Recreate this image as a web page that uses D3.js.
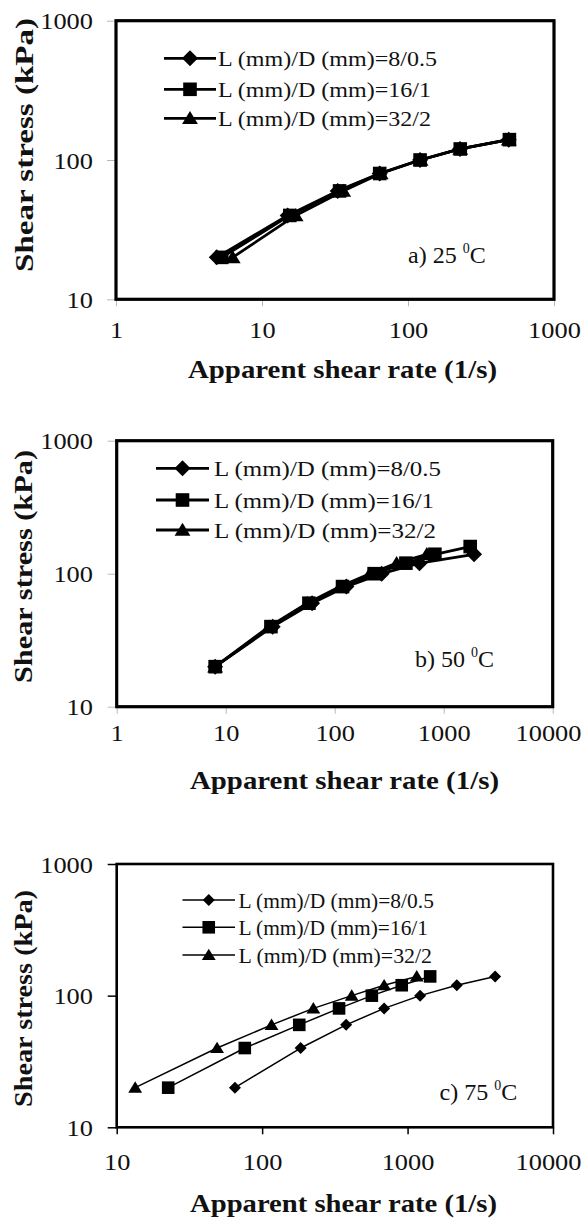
<!DOCTYPE html>
<html><head><meta charset="utf-8">
<script src="https://cdn.jsdelivr.net/npm/d3@7/dist/d3.min.js"></script>
<style>html,body{margin:0;padding:0;background:#fff;} svg{display:block;}</style>
</head><body>
<script>
// ---------------- DATA ----------------
const seriesNames = ["L (mm)/D (mm)=8/0.5", "L (mm)/D (mm)=16/1", "L (mm)/D (mm)=32/2"];
const yTicks = [10, 100, 1000];
const xTicksA = [1, 10, 100, 1000];
const xTicksB = [1, 10, 100, 1000, 10000];
const xTicksC = [10, 100, 1000, 10000];
const xTitle = "Apparent shear rate (1/s)";
const yTitle = "Shear stress (kPa)";
const panelLabels = ["a) 25 ", "b) 50 ", "c) 75 "];

// a) 25 °C
const stressA = [20, 40, 60, 80, 100, 120, 140];
const rateA_8_05 = [4.9, 15, 33, 64, 121, 227, 490];
const rateA_16_1 = [5.3, 15.5, 34, 64, 121, 228, 495];
const rateA_32_2 = [6.3, 17, 36, 65, 122, 228, 490];

// b) 50 °C
const stressB_8_05 = [20, 40, 60, 80, 100, 120, 140];
const rateB_8_05 = [8, 27, 62, 128, 270, 600, 1900];
const stressB_16_1 = [20, 40, 60, 80, 100, 120, 140, 160];
const rateB_16_1 = [8, 26, 58, 118, 230, 450, 830, 1750];
const stressB_32_2 = [20, 40, 60, 80, 100, 120, 140];
const rateB_32_2 = [8, 25, 56, 112, 210, 370, 700];

// c) 75 °C
const stressC = [20, 40, 60, 80, 100, 120, 140];
const rateC_8_05 = [65, 184, 378, 690, 1220, 2180, 4000];
const rateC_16_1 = [22.6, 76, 180, 338, 568, 912, 1430];
const rateC_32_2 = [13.4, 49, 116, 225, 413, 690, 1156];

// ---------------- DRAWING ----------------
const FONT = "'Liberation Serif','Times New Roman',serif";
const svg = d3.select("body").append("svg").attr("width", 584).attr("height", 1223)
  .style("background", "#fff");

const symDiamond = {draw(c, r){ c.moveTo(0,-r); c.lineTo(r,0); c.lineTo(0,r); c.lineTo(-r,0); c.closePath(); }};
const symSquare = {draw(c, r){ c.moveTo(-r,-r); c.lineTo(r,-r); c.lineTo(r,r); c.lineTo(-r,r); c.closePath(); }};
const symTriangle = {draw(c, r){ c.moveTo(0,-r); c.lineTo(r*1.1,r*0.8); c.lineTo(-r*1.1,r*0.8); c.closePath(); }};
const symTypes = [symDiamond, symSquare, symTriangle];

const panels = [
  { box:{l:116, r:554, t:20.7, b:299.3}, xDomain:[1,1000], xTicks:xTicksA,
    series:[[rateA_8_05, stressA],[rateA_16_1, stressA],[rateA_32_2, stressA]],
    heavy:true, msize:[8,6.8,7.2], lw:2.8,
    legend:{rows:[58.3,89.3,118.3], x0:164, x1:216, tx:218, tw:[219,213,213]},
    ann:{x:408, y:263}, xt:{cx:342.5, y:378, len:309}, yt:{x:33, cy:145, len:254}, xLabelY:338 },
  { box:{l:116.7, r:552.7, t:440.7, b:706.7}, xDomain:[1,10000], xTicks:xTicksB,
    series:[[rateB_8_05, stressB_8_05],[rateB_16_1, stressB_16_1],[rateB_32_2, stressB_32_2]],
    heavy:true, msize:[8,6.8,7.2], lw:2.8,
    legend:{rows:[468.3,500,530], x0:156, x1:209, tx:214, tw:[227,220,222]},
    ann:{x:415, y:667}, xt:{cx:344.5, y:789, len:309}, yt:{x:32, cy:566.5, len:233}, xLabelY:741 },
  { box:{l:116.7, r:553, t:864, b:1127.3}, xDomain:[10,10000], xTicks:xTicksC,
    series:[[rateC_8_05, stressC],[rateC_16_1, stressC],[rateC_32_2, stressC]],
    heavy:false, msize:[6,6.3,6.3], lw:1.5,
    legend:{rows:[900,927.3,955], x0:182.5, x1:235, tx:238.4, tw:[195.5,189.6,193.6]},
    ann:{x:439.5, y:1100}, xt:{cx:343.5, y:1212, len:307}, yt:{x:32, cy:998.5, len:217}, xLabelY:1170 }
];

panels.forEach((p, pi) => {
  const {l, r, t, b} = p.box;
  const g = svg.append("g");
  const x = d3.scaleLog().domain(p.xDomain).range([l, r]);
  const y = d3.scaleLog().domain([10, 1000]).range([b, t]);
  const tickColor = p.heavy ? "#b8b8b8" : "#000";
  const tickW = p.heavy ? 1 : 1.5;
  const sx = 1.1;

  // axes
  const gx = g.append("g").attr("transform", `translate(0,${b})`)
    .call(d3.axisBottom(x).tickValues(p.xTicks).tickSize(7).tickFormat(d3.format("d")));
  gx.select(".domain").remove();
  gx.selectAll("line").attr("stroke", tickColor).attr("stroke-width", tickW);
  gx.selectAll("text").attr("font-family", FONT).attr("font-size", 24).attr("fill", "#111")
    .attr("y", p.xLabelY - b).attr("dy", 0).attr("transform", `scale(${sx},1)`);
  // keep the last tick label inside the picture
  gx.selectAll(".tick").each(function(d){
    const tx = x(d);
    const txt = d3.select(this).select("text");
    const half = this.querySelector("text").getComputedTextLength() * sx / 2;
    if (tx + half > 581) txt.attr("x", (581 - half - tx) / sx);
  });

  const gy = g.append("g").attr("transform", `translate(${l},0)`)
    .call(d3.axisLeft(y).tickValues(yTicks).tickSize(9).tickFormat(d3.format("d")));
  gy.select(".domain").remove();
  gy.selectAll("line").attr("stroke", tickColor).attr("stroke-width", tickW);
  gy.selectAll("text").attr("font-family", FONT).attr("font-size", 24).attr("fill", "#111")
    .attr("x", -(l - 93) / sx).attr("dy", "0.34em").attr("transform", `scale(${sx},1)`);

  // series
  const line = d3.line().x(d => x(d[0])).y(d => y(d[1]));
  p.series.forEach((s, si) => {
    const pts = s[0].map((v, i) => [v, s[1][i]]);
    g.append("path").attr("d", line(pts)).attr("fill", "none")
      .attr("stroke", "#000").attr("stroke-width", p.lw).attr("stroke-linejoin", "round");
    const sym = d3.symbol().type(symTypes[si]).size(p.msize[si]);
    g.selectAll(null).data(pts).enter().append("path")
      .attr("d", sym).attr("fill", "#000")
      .attr("transform", d => `translate(${x(d[0])},${y(d[1])})`);
  });

  // frame
  g.append("rect").attr("x", l).attr("y", t).attr("width", r - l).attr("height", b - t)
    .attr("fill", "none").attr("stroke", "#000").attr("stroke-width", p.heavy ? 3.2 : 2.6);

  // legend
  const L = p.legend;
  seriesNames.forEach((name, si) => {
    const ry = L.rows[si];
    g.append("line").attr("x1", L.x0).attr("x2", L.x1).attr("y1", ry).attr("y2", ry)
      .attr("stroke", "#000").attr("stroke-width", p.lw);
    const sym = d3.symbol().type(symTypes[si]).size(p.msize[si]);
    g.append("path").attr("d", sym).attr("fill", "#000")
      .attr("transform", `translate(${(L.x0 + L.x1) / 2},${ry})`);
    g.append("text").attr("x", L.tx).attr("y", ry + 7.5)
      .attr("font-family", FONT).attr("font-size", 21).attr("fill", "#111")
      .attr("textLength", L.tw[si]).attr("lengthAdjust", "spacingAndGlyphs")
      .text(name);
  });

  // annotation
  const at = g.append("text").attr("x", p.ann.x).attr("y", p.ann.y)
    .attr("font-family", FONT).attr("font-size", 24).attr("fill", "#111");
  at.append("tspan").text(panelLabels[pi]);
  at.append("tspan").attr("font-size", 14).attr("dy", -10).text("0");
  at.append("tspan").attr("dy", 10).text("C");

  // axis titles
  g.append("text").attr("x", p.xt.cx).attr("y", p.xt.y).attr("text-anchor", "middle")
    .attr("font-family", FONT).attr("font-weight", "bold").attr("font-size", 25).attr("fill", "#111")
    .attr("textLength", p.xt.len).attr("lengthAdjust", "spacingAndGlyphs")
    .text(xTitle);
  g.append("text").attr("transform", `translate(${p.yt.x},${p.yt.cy}) rotate(-90)`)
    .attr("text-anchor", "middle")
    .attr("font-family", FONT).attr("font-weight", "bold").attr("font-size", 26).attr("fill", "#111")
    .attr("textLength", p.yt.len).attr("lengthAdjust", "spacingAndGlyphs")
    .text(yTitle);
});
</script>
</body></html>
